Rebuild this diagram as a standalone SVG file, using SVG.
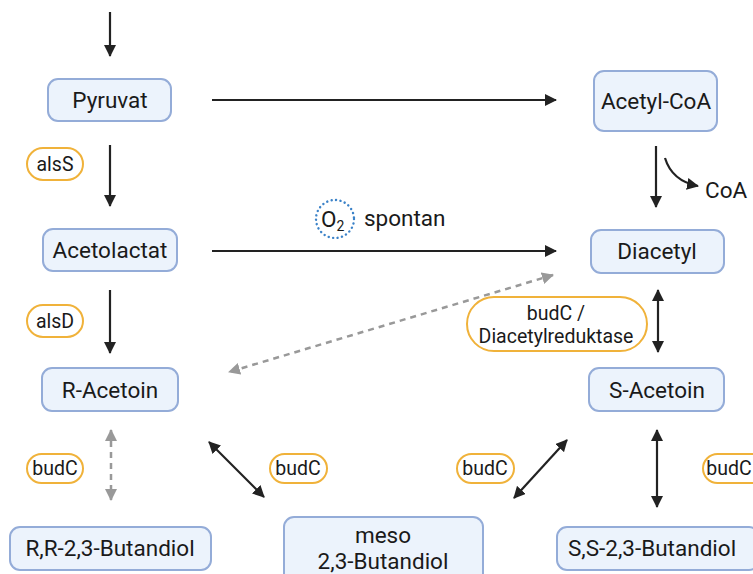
<svg xmlns="http://www.w3.org/2000/svg" width="753" height="574" viewBox="0 0 753 574">
  <defs>
    <style>
      .node rect { fill: #ecf3fc; stroke: #94acd8; stroke-width: 2; }
      .node text { font-family: Roboto, "Liberation Sans", sans-serif; font-size: 22.5px; fill: #1a1a1a; text-anchor: middle; }
      .enz rect { fill: #ffffff; stroke: #f0b23a; stroke-width: 2; }
      .enz text { font-family: Roboto, "Liberation Sans", sans-serif; font-size: 19.5px; fill: #1a1a1a; text-anchor: middle; }
      .lbl { font-family: Roboto, "Liberation Sans", sans-serif; font-size: 22.5px; fill: #1a1a1a; }
      .arr { stroke: #222222; stroke-width: 2.2; fill: none; }
      .dash { stroke: #999999; stroke-width: 2.5; fill: none; stroke-dasharray: 6 5; }
    </style>
    <marker id="ah" viewBox="0 0 12 12" refX="11" refY="6" markerWidth="12" markerHeight="12" markerUnits="userSpaceOnUse" orient="auto-start-reverse">
      <path d="M0,0 L12,6 L0,12 Z" fill="#222222"/>
    </marker>
    <marker id="ahg" viewBox="0 0 12 12" refX="11" refY="6" markerWidth="12" markerHeight="12" markerUnits="userSpaceOnUse" orient="auto-start-reverse">
      <path d="M0,0 L12,6 L0,12 Z" fill="#999999"/>
    </marker>
  </defs>

  <!-- connectors -->
  <g id="connectors">
    <line class="arr" x1="110" y1="12" x2="110" y2="56" marker-end="url(#ah)"/>
    <line class="arr" x1="110" y1="145" x2="110" y2="206" marker-end="url(#ah)"/>
    <line class="arr" x1="212" y1="100" x2="556" y2="100" marker-end="url(#ah)"/>
    <line class="arr" x1="656" y1="146" x2="656" y2="207" marker-end="url(#ah)"/>
    <path class="arr" d="M665,158 Q672,181 698,186" marker-end="url(#ah)"/>
    <line class="arr" x1="212" y1="251" x2="556" y2="251" marker-end="url(#ah)"/>
    <line class="arr" x1="110" y1="290" x2="110" y2="353" marker-end="url(#ah)"/>
    <line class="dash" x1="553" y1="275" x2="229" y2="372" marker-start="url(#ahg)" marker-end="url(#ahg)"/>
    <line class="arr" x1="658" y1="290" x2="658" y2="352" marker-start="url(#ah)" marker-end="url(#ah)"/>
    <line class="dash" x1="111" y1="430" x2="111" y2="500" marker-start="url(#ahg)" marker-end="url(#ahg)"/>
    <line class="arr" x1="209" y1="442" x2="264" y2="497" marker-start="url(#ah)" marker-end="url(#ah)"/>
    <line class="arr" x1="567" y1="440" x2="514" y2="498" marker-start="url(#ah)" marker-end="url(#ah)"/>
    <line class="arr" x1="657" y1="430" x2="657" y2="507" marker-start="url(#ah)" marker-end="url(#ah)"/>
  </g>

  <!-- metabolites -->
  <g id="pyruvat" class="node">
    <rect x="48" y="79" width="123" height="42" rx="10"/>
    <text x="110" y="108">Pyruvat</text>
  </g>
  <g id="acetyl-coa" class="node">
    <rect x="594" y="71" width="123" height="60" rx="10"/>
    <text x="656" y="109">Acetyl-CoA</text>
  </g>
  <g id="acetolactat" class="node">
    <rect x="43" y="229" width="134" height="42" rx="10"/>
    <text x="110" y="258">Acetolactat</text>
  </g>
  <g id="diacetyl" class="node">
    <rect x="591" y="230" width="133" height="43" rx="10"/>
    <text x="657" y="259">Diacetyl</text>
  </g>
  <g id="r-acetoin" class="node">
    <rect x="42" y="368" width="136" height="43" rx="10"/>
    <text x="110" y="398">R-Acetoin</text>
  </g>
  <g id="s-acetoin" class="node">
    <rect x="589" y="368" width="135" height="43" rx="10"/>
    <text x="657" y="398">S-Acetoin</text>
  </g>
  <g id="rr-butandiol" class="node">
    <rect x="10" y="527" width="201" height="43" rx="10"/>
    <text x="110" y="556">R,R-2,3-Butandiol</text>
  </g>
  <g id="meso-butandiol" class="node">
    <rect x="284" y="517" width="199" height="70" rx="10"/>
    <text x="383" y="543">meso</text>
    <text x="383" y="569">2,3-Butandiol</text>
  </g>
  <g id="ss-butandiol" class="node">
    <rect x="557" y="527" width="202" height="43" rx="10"/>
    <text x="652" y="556">S,S-2,3-Butandiol</text>
  </g>

  <!-- enzymes -->
  <g id="alsS" class="enz">
    <rect x="27" y="148" width="56" height="32" rx="16"/>
    <text x="55" y="171">alsS</text>
  </g>
  <g id="alsD" class="enz">
    <rect x="27" y="305" width="56" height="32" rx="16"/>
    <text x="55" y="328">alsD</text>
  </g>
  <g id="budC-diacetylreduktase" class="enz">
    <rect x="467" y="297" width="180" height="54" rx="27"/>
    <text x="556" y="320">budC /</text>
    <text x="556" y="343">Diacetylreduktase</text>
  </g>
  <g id="budC-1" class="enz">
    <rect x="27" y="454" width="56" height="29" rx="14.5"/>
    <text x="55" y="475">budC</text>
  </g>
  <g id="budC-2" class="enz">
    <rect x="270" y="454" width="57" height="29" rx="14.5"/>
    <text x="298" y="475">budC</text>
  </g>
  <g id="budC-3" class="enz">
    <rect x="457" y="454" width="57" height="29" rx="14.5"/>
    <text x="485" y="475">budC</text>
  </g>
  <g id="budC-4" class="enz">
    <rect x="703" y="454" width="70" height="29" rx="14.5"/>
    <text x="729" y="475">budC</text>
  </g>

  <!-- side labels -->
  <g id="coa">
    <text class="lbl" x="705" y="198">CoA</text>
  </g>
  <g id="o2-spontan">
    <circle cx="335" cy="219" r="19" fill="#ffffff" stroke="#3b82c8" stroke-width="2.4" stroke-dasharray="0.1 4.4" stroke-linecap="round"/>
    <text class="lbl" x="321" y="227">O<tspan font-size="14" dy="4">2</tspan></text>
    <text class="lbl" x="364" y="226">spontan</text>
  </g>
</svg>
